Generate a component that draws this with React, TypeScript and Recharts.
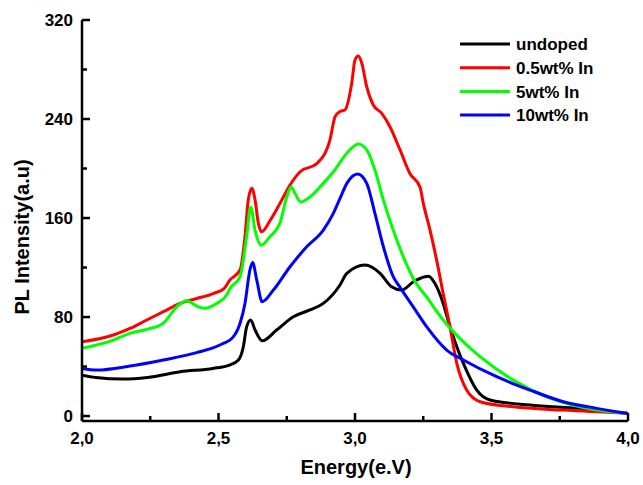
import { Legend, Line, LineChart, XAxis, YAxis } from "recharts";

const FONT = "'Liberation Sans', Arial, sans-serif";

const undopedE = [2.0, 2.05, 2.15, 2.24, 2.36, 2.48, 2.54, 2.573, 2.591, 2.603, 2.618, 2.634, 2.66, 2.713, 2.774, 2.835, 2.884, 2.945, 2.97, 3.037, 3.092, 3.134, 3.171, 3.214, 3.256, 3.27, 3.293, 3.323, 3.348, 3.378, 3.397, 3.446, 3.495, 3.641, 3.824, 4.0];
const undopedI = [33, 31.2, 29.9, 31.2, 35.8, 38.5, 41.2, 45.3, 56, 72, 77.6, 69.5, 60.8, 69.5, 80.2, 85.7, 91, 105.9, 115.3, 122, 115.3, 104.5, 101.8, 108.5, 112.6, 113, 107, 91, 72, 53, 42.5, 21, 13, 8.9, 6.2, 2];

const redE = [2.0, 2.115, 2.176, 2.237, 2.298, 2.359, 2.42, 2.481, 2.52, 2.542, 2.579, 2.597, 2.609, 2.622, 2.634, 2.646, 2.658, 2.689, 2.725, 2.762, 2.799, 2.86, 2.908, 2.927, 2.945, 2.963, 2.988, 3.0, 3.012, 3.025, 3.043, 3.067, 3.098, 3.128, 3.165, 3.201, 3.238, 3.25, 3.275, 3.299, 3.323, 3.348, 3.373, 3.409, 3.458, 3.58, 3.763, 4.0];
const redI = [60, 65.5, 70.8, 77.6, 84.3, 91, 95, 99, 103, 110, 118, 145, 174.5, 184, 174.5, 155.7, 149, 158, 171.8, 186.7, 197.4, 204, 223, 241.9, 246, 247.3, 268.8, 287.7, 290.9, 285, 266, 251.3, 244.6, 233.8, 215, 196, 185, 172, 150, 126, 99, 72, 42.5, 21, 11.6, 7.5, 4.8, 2.2];

const greenE = [2.0, 2.115, 2.176, 2.237, 2.298, 2.347, 2.384, 2.42, 2.451, 2.493, 2.53, 2.542, 2.579, 2.603, 2.618, 2.634, 2.656, 2.689, 2.725, 2.75, 2.766, 2.78, 2.801, 2.835, 2.884, 2.921, 2.97, 3.012, 3.043, 3.073, 3.104, 3.14, 3.177, 3.214, 3.263, 3.323, 3.421, 3.458, 3.58, 3.702, 3.824, 4.0];
const greenI = [54.7, 61.4, 66.8, 70, 75, 88.3, 93.2, 88.9, 87, 91, 97.8, 103, 112.6, 145, 169, 150, 138, 145, 155.7, 177, 185, 180, 173, 177, 188, 197.4, 212.3, 219.8, 215, 198.8, 174.5, 150.3, 128.7, 111, 96, 77.6, 55, 48, 29, 15.6, 7.5, 2];

const blueE = [2.0, 2.054, 2.176, 2.298, 2.42, 2.505, 2.554, 2.579, 2.597, 2.615, 2.625, 2.64, 2.66, 2.701, 2.762, 2.823, 2.884, 2.921, 2.945, 2.97, 3.01, 3.043, 3.073, 3.104, 3.14, 3.165, 3.214, 3.263, 3.336, 3.397, 3.519, 3.641, 3.763, 3.885, 4.0];
const blueI = [38.5, 37.2, 40.4, 45.3, 51.2, 57.4, 64, 75, 91, 118, 124, 110, 92.4, 101.8, 120.6, 136.8, 150.3, 164, 175.8, 188, 195.6, 188, 163.8, 136.8, 112.6, 104, 88, 72, 53.3, 45.3, 31.8, 21, 11.6, 6.2, 2];

const X_TICKS = [2, 2.25, 2.5, 2.75, 3, 3.25, 3.5, 3.75, 4];
const Y_TICKS = [0, 40, 80, 120, 160, 200, 240, 280, 320];

const zip = (e: number[], v: number[]) => e.map((x, k) => ({ e: x, v: v[k] }));

const SERIES = [
  { name: "undoped", color: "#000000", data: zip(undopedE, undopedI) },
  { name: "0.5wt% In", color: "#ff0000", data: zip(redE, redI) },
  { name: "5wt% In", color: "#00ff00", data: zip(greenE, greenI) },
  { name: "10wt% In", color: "#0000ff", data: zip(blueE, blueI) },
];

const AX = 2.5;

function BottomTick({ x, y, payload }: any) {
  const v = payload.value as number;
  const major = Math.abs(v * 2 - Math.round(v * 2)) < 1e-6;
  return (
    <g>
      <line x1={x} x2={x} y1={y} y2={y - (major ? 8 : 5)} stroke="#000" strokeWidth={AX} />
      {major && (
        <text x={x} y={y + 23} textAnchor="middle" fontFamily={FONT} fontWeight="bold" fontSize={17} fill="#000">
          {v.toFixed(1).replace(".", ",")}
        </text>
      )}
    </g>
  );
}

function TopTick({ x, y, payload }: any) {
  const v = payload.value as number;
  const major = Math.abs(v * 2 - Math.round(v * 2)) < 1e-6;
  return <line x1={x} x2={x} y1={y} y2={y + (major ? 8 : 5)} stroke="#000" strokeWidth={AX} />;
}

function LeftTick({ x, y, payload }: any) {
  const v = payload.value as number;
  const major = v % 80 === 0;
  const ax = x + 9;
  return (
    <g>
      <line x1={ax} x2={ax + (major ? 8 : 5)} y1={y} y2={y} stroke="#000" strokeWidth={AX} />
      {major && (
        <text x={x} y={y} dy="0.36em" textAnchor="end" fontFamily={FONT} fontWeight="bold" fontSize={17} fill="#000">
          {v}
        </text>
      )}
    </g>
  );
}

function RightTick({ x, y, payload }: any) {
  const v = payload.value as number;
  const major = v % 80 === 0;
  return <line x1={x} x2={x - (major ? 8 : 5)} y1={y} y2={y} stroke="#000" strokeWidth={AX} />;
}

function renderLegend() {
  return (
    <svg width={175} height={100}>
      {SERIES.map((s, k) => {
        const cy = 12 + k * 23.7;
        return (
          <g key={s.name}>
            <line x1={5} x2={55} y1={cy} y2={cy} stroke={s.color} strokeWidth={3} />
            <text x={61} y={cy} dy="0.36em" fontFamily={FONT} fontWeight="bold" fontSize={17} fill="#000">
              {s.name}
            </text>
          </g>
        );
      })}
    </svg>
  );
}

export default function App() {
  return (
    <div style={{ position: "absolute", left: 0, top: 0, background: "#fff" }}>
      <LineChart width={643} height={485} margin={{ top: 20, right: 15, bottom: 0, left: 0 }}>
        <XAxis
          dataKey="e"
          type="number"
          domain={[2, 4]}
          ticks={X_TICKS}
          allowDataOverflow
          tickSize={0}
          tickMargin={0}
          tick={<BottomTick />}
          axisLine={{ stroke: "#000", strokeWidth: AX }}
          height={64}
          label={{
            content: ({ viewBox }: any) => (
              <text
                x={viewBox.x + viewBox.width / 2 + 1}
                y={474}
                textAnchor="middle"
                fontFamily={FONT}
                fontWeight="bold"
                fontSize={20}
                fill="#000"
              >
                Energy(e.V)
              </text>
            ),
          }}
        />
        <XAxis
          xAxisId="top"
          orientation="top"
          type="number"
          domain={[2, 4]}
          ticks={X_TICKS}
          tickSize={0}
          tickMargin={0}
          tick={<TopTick />}
          axisLine={{ stroke: "#000", strokeWidth: AX }}
          height={0}
        />
        <YAxis
          type="number"
          domain={[-4, 320]}
          ticks={Y_TICKS}
          allowDataOverflow
          tickSize={0}
          tickMargin={9}
          tick={<LeftTick />}
          axisLine={{ stroke: "#000", strokeWidth: AX }}
          width={82}
          label={{
            content: () => (
              <text
                x={29}
                y={237}
                transform="rotate(-90 29 237)"
                textAnchor="middle"
                fontFamily={FONT}
                fontWeight="bold"
                fontSize={20}
                fill="#000"
              >
                PL Intensity(a.u)
              </text>
            ),
          }}
        />
        <YAxis
          yAxisId="right"
          orientation="right"
          type="number"
          domain={[-4, 320]}
          ticks={Y_TICKS}
          tickSize={0}
          tickMargin={0}
          tick={<RightTick />}
          axisLine={{ stroke: "#000", strokeWidth: AX }}
          width={0}
        />
        <Legend
          layout="vertical"
          align="center"
          verticalAlign="middle"
          content={renderLegend}
          wrapperStyle={{ position: "absolute", left: 455, top: 32, width: 175, height: 100 }}
        />
        {SERIES.map((s) => (
          <Line
            key={s.name}
            data={s.data}
            dataKey="v"
            name={s.name}
            type="monotone"
            stroke={s.color}
            strokeWidth={3}
            dot={false}
            activeDot={false}
            isAnimationActive={false}
          />
        ))}
      </LineChart>
    </div>
  );
}
